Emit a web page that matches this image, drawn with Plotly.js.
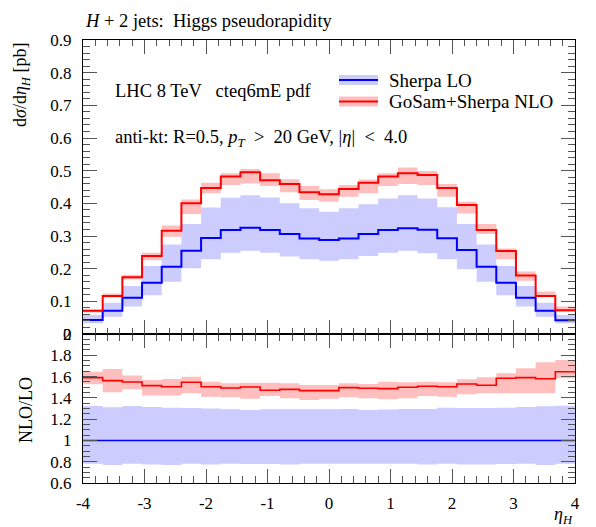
<!DOCTYPE html>
<html><head><meta charset="utf-8">
<script src="https://cdn.plot.ly/plotly-3.0.1.min.js"></script>
<style>html,body{margin:0;padding:0;background:#fff}#chart{width:596px;height:527px}</style>
</head><body><div id="chart"></div>
<script>
// ---- data ----
const binEdges = [-4,-3.68,-3.36,-3.04,-2.72,-2.40,-2.08,-1.76,-1.44,-1.12,-0.80,-0.48,-0.16,0.16,0.48,0.80,1.12,1.44,1.76,2.08,2.40,2.72,3.04,3.36,3.68,4.00];
const loCentral = [0.043,0.071,0.111,0.157,0.206,0.255,0.294,0.318,0.325,0.318,0.306,0.292,0.288,0.292,0.306,0.318,0.324,0.319,0.293,0.257,0.206,0.157,0.111,0.071,0.042];
const loUp      = [0.058,0.096,0.147,0.208,0.274,0.337,0.387,0.417,0.425,0.418,0.400,0.385,0.374,0.385,0.397,0.415,0.425,0.415,0.388,0.337,0.274,0.208,0.147,0.096,0.058];
const loDown    = [0.033,0.053,0.084,0.119,0.160,0.201,0.229,0.249,0.255,0.249,0.237,0.229,0.224,0.229,0.239,0.249,0.255,0.247,0.229,0.198,0.160,0.119,0.084,0.053,0.033];
const nloCentral= [0.071,0.116,0.174,0.239,0.316,0.400,0.447,0.482,0.495,0.471,0.459,0.434,0.428,0.444,0.463,0.482,0.492,0.487,0.447,0.395,0.318,0.254,0.179,0.116,0.073];
const nloUp     = [0.075,0.124,0.181,0.249,0.332,0.412,0.463,0.492,0.505,0.492,0.474,0.453,0.443,0.456,0.473,0.492,0.510,0.499,0.459,0.405,0.337,0.262,0.191,0.130,0.084];
const nloDown   = [0.066,0.112,0.167,0.226,0.298,0.367,0.431,0.456,0.461,0.453,0.434,0.410,0.405,0.420,0.431,0.453,0.459,0.456,0.420,0.369,0.306,0.229,0.163,0.114,0.068];
const ratioLo     = [1,1,1,1,1,1,1,1,1,1,1,1,1,1,1,1,1,1,1,1,1,1,1,1,1];
const ratioLoUp   = [1.324,1.311,1.324,1.314,1.308,1.305,1.299,1.293,1.286,1.293,1.293,1.293,1.293,1.295,1.286,1.290,1.295,1.295,1.308,1.305,1.305,1.308,1.314,1.321,1.327];
const ratioLoDown = [0.780,0.770,0.780,0.775,0.770,0.780,0.775,0.780,0.778,0.778,0.775,0.780,0.780,0.780,0.780,0.780,0.782,0.775,0.780,0.775,0.775,0.778,0.780,0.768,0.780];
const ratioNlo    = [1.590,1.562,1.549,1.515,1.505,1.546,1.505,1.493,1.502,1.471,1.480,1.468,1.468,1.496,1.490,1.487,1.499,1.509,1.505,1.530,1.518,1.584,1.590,1.580,1.646];
const ratioNloUp  = [1.646,1.671,1.609,1.568,1.577,1.599,1.552,1.537,1.543,1.543,1.537,1.521,1.521,1.537,1.531,1.552,1.546,1.552,1.546,1.575,1.593,1.631,1.678,1.734,1.756];
const ratioNloDown= [1.527,1.452,1.481,1.421,1.421,1.443,1.411,1.405,1.392,1.418,1.396,1.380,1.392,1.405,1.396,1.387,1.396,1.418,1.411,1.433,1.443,1.443,1.443,1.443,1.584];
const xTickVals = [-4,-3,-2,-1,0,1,2,3,4];
const xTickText = ['-4','-3','-2','-1','0','1','2','3','4'];
const seriesNames = ['Sherpa LO','GoSam+Sherpa NLO'];

// ---- helpers ----
const step = v => v.concat([v[v.length-1]]);
const BLUE='#0000ff', RED='#ff0000';
const BLUEBAND='rgba(0,0,255,0.2)', REDBAND='rgba(255,0,0,0.25)';
const FONT='Liberation Serif';

function band(lo, hi, color, xa, ya){
  return [
    {x:binEdges, y:step(lo), xaxis:xa, yaxis:ya, type:'scatter', mode:'lines', line:{shape:'hv', width:0, color:color}, hoverinfo:'skip', showlegend:false},
    {x:binEdges, y:step(hi), xaxis:xa, yaxis:ya, type:'scatter', mode:'lines', fill:'tonexty', fillcolor:color, line:{shape:'hv', width:0, color:color}, hoverinfo:'skip', showlegend:false}
  ];
}
function line(v, color, w, xa, ya, name){
  return {x:binEdges, y:step(v), xaxis:xa, yaxis:ya, type:'scatter', mode:'lines', name:name, line:{shape:'hv', width:w, color:color}, showlegend:false};
}

const traces = [].concat(
  band(loDown, loUp, BLUEBAND, 'x2', 'y2'),
  band(nloDown, nloUp, REDBAND, 'x2', 'y2'),
  [line(loCentral, BLUE, 2, 'x2', 'y2', seriesNames[0]), line(nloCentral, RED, 2, 'x2', 'y2', seriesNames[1])],
  band(ratioLoDown, ratioLoUp, BLUEBAND, 'x', 'y'),
  band(ratioNloDown, ratioNloUp, REDBAND, 'x', 'y'),
  [line(ratioLo, BLUE, 1.6, 'x', 'y', seriesNames[0]), line(ratioNlo, RED, 1.6, 'x', 'y', seriesNames[1])]
);

// layout geometry (pixels -> paper)
const L=83, R=575, T=40, B=483, SPLIT=334;
const px = x => (x-L)/(R-L);
const py = y => (B-y)/(B-T);
const split = py(SPLIT);

const axisCommon = {
  showline:true, linecolor:'#000', linewidth:1, mirror:'allticks',
  ticks:'inside', ticklen:14, tickwidth:1, tickcolor:'#555',
  showgrid:false, zeroline:false,
  tickfont:{family:FONT, size:17, color:'#000'}
};

const layout = {
  width:596, height:527,
  margin:{l:L, r:596-R, t:T, b:527-B},
  paper_bgcolor:'#fff', plot_bgcolor:'#fff',
  font:{family:FONT, color:'#000'},
  showlegend:false,
  title:{text:'<i>H</i> + 2 jets:  Higgs pseudorapidity', x:86/596, xanchor:'left', xref:'container', y:1-21/527, yanchor:'middle', yref:'container', font:{family:FONT, size:18.5, color:'#000'}},
  xaxis: Object.assign({}, axisCommon, {
    domain:[0,1], anchor:'y', range:[-4,4], tickmode:'array', tickvals:xTickVals, ticktext:xTickText,
    ticklabelstandoff:5,
    minor:{dtick:0.2, ticks:'inside', ticklen:7, tickwidth:1, tickcolor:'#555', showgrid:false}
  }),
  yaxis: Object.assign({}, axisCommon, {
    domain:[0,split], anchor:'x', range:[0.6,2], dtick:0.2, tick0:0,
    ticklabelstandoff:7,
    minor:{dtick:0.05, ticks:'inside', ticklen:7, tickwidth:1, tickcolor:'#555', showgrid:false}
  }),
  xaxis2: Object.assign({}, axisCommon, {
    domain:[0,1], anchor:'y2', range:[-4,4], matches:'x', showticklabels:false, tickmode:'array', tickvals:xTickVals,
    minor:{dtick:0.2, ticks:'inside', ticklen:6, tickwidth:1, tickcolor:'#555', showgrid:false}
  }),
  yaxis2: Object.assign({}, axisCommon, {
    domain:[split,1], anchor:'x2', range:[0,0.9], dtick:0.1, tick0:0,
    ticklabelstandoff:7,
    minor:{dtick:0.02, ticks:'inside', ticklen:7, tickwidth:1, tickcolor:'#555', showgrid:false}
  }),
  shapes:[
    {type:'rect', xref:'paper', yref:'paper', x0:px(339), x1:px(378), y0:py(85), y1:py(75), fillcolor:BLUEBAND, line:{width:0}},
    {type:'line', xref:'paper', yref:'paper', x0:px(339), x1:px(378), y0:py(80), y1:py(80), line:{color:BLUE, width:2}},
    {type:'rect', xref:'paper', yref:'paper', x0:px(339), x1:px(378), y0:py(106.5), y1:py(96.5), fillcolor:REDBAND, line:{width:0}},
    {type:'line', xref:'paper', yref:'paper', x0:px(339), x1:px(378), y0:py(101.5), y1:py(101.5), line:{color:RED, width:2}}
  ],
  annotations:[
    {xref:'paper', yref:'paper', x:px(387), y:py(80), xanchor:'left', yanchor:'middle', showarrow:false, text:seriesNames[0], font:{family:FONT, size:19}},
    {xref:'paper', yref:'paper', x:px(387), y:py(101.5), xanchor:'left', yanchor:'middle', showarrow:false, text:seriesNames[1], font:{family:FONT, size:19}},
    {xref:'paper', yref:'paper', x:px(113), y:py(91), xanchor:'left', yanchor:'middle', showarrow:false, text:'LHC 8 TeV\u2002 cteq6mE pdf', font:{family:FONT, size:18.5}},
    {xref:'paper', yref:'paper', x:px(113), y:py(138), xanchor:'left', yanchor:'middle', showarrow:false, text:'anti-kt: R=0.5, <i>p<sub>T</sub></i>\u2002&gt;\u200220 GeV, |<i>η</i>|\u2002&lt;\u20024.0', font:{family:FONT, size:18.5}},
    {xref:'paper', yref:'paper', x:px(21), y:py(85), xanchor:'center', yanchor:'middle', textangle:-90, showarrow:false, text:'d<i>σ</i>/d<i>η<sub>H</sub></i> [pb]', font:{family:FONT, size:18}},
    {xref:'paper', yref:'paper', x:px(26), y:py(410), xanchor:'center', yanchor:'middle', textangle:-90, showarrow:false, text:'NLO/LO', font:{family:FONT, size:18}},
    {xref:'paper', yref:'paper', x:px(575), y:py(515), xanchor:'right', yanchor:'middle', showarrow:false, text:'<i>η<sub>H</sub></i>', font:{family:FONT, size:18}}
  ]
};

Plotly.newPlot('chart', traces, layout, {staticPlot:true, displayModeBar:false});
</script>
</body></html>
